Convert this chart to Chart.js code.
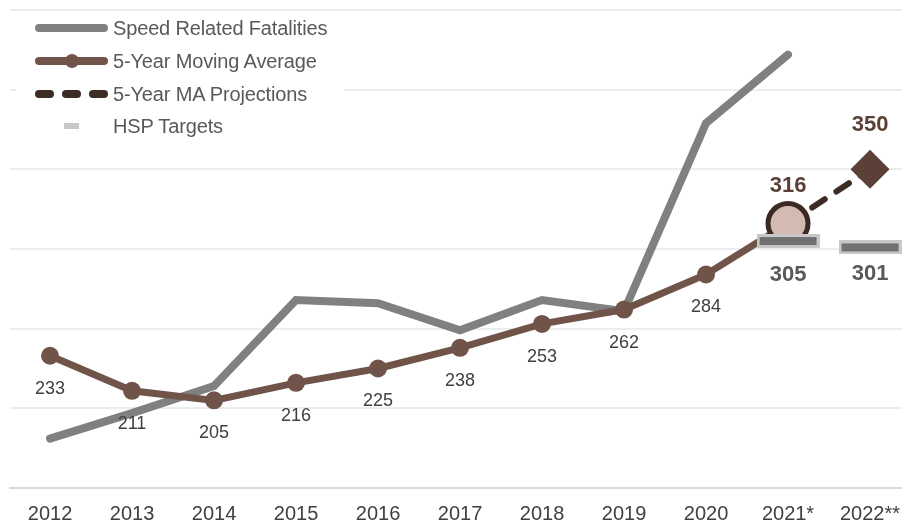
<!DOCTYPE html>
<html>
<head>
<meta charset="utf-8">
<script src="https://cdn.jsdelivr.net/npm/chart.js@4.4.0/dist/chart.umd.min.js"></script>
<style>
  html, body { margin: 0; padding: 0; background: #fff; }
  #wrap { position: relative; width: 902px; height: 523px; }
  canvas { display: block; }
  #legend {
    position: absolute; left: 16px; top: 12px; width: 328px; height: 128px;
    background: #fff; font-family: "Liberation Sans", Arial, sans-serif;
    font-size: 20px; color: #595959;
  }
  .row { position: absolute; left: 0; height: 30px; line-height: 30px; }
  .row span.txt { position: absolute; left: 97px; white-space: nowrap; letter-spacing: -0.15px; }
  .sample { position: absolute; left: 19px; }
</style>
</head>
<body>
<div id="wrap">
  <canvas id="speedChart" width="902" height="523"></canvas>
  <div id="legend">
    <div class="row" style="top:1px">
      <div class="sample" style="top:11px;width:73px;height:8px;border-radius:4px;background:#808080"></div>
      <span class="txt">Speed Related Fatalities</span>
    </div>
    <div class="row" style="top:34px">
      <div class="sample" style="top:11px;width:73px;height:8px;border-radius:4px;background:#70544a"></div>
      <div class="sample" style="top:8px;left:49px;width:14px;height:14px;border-radius:7px;background:#70544a"></div>
      <span class="txt">5-Year Moving Average</span>
    </div>
    <div class="row" style="top:67px">
      <div class="sample" style="top:11px;width:19px;height:8px;border-radius:4px;background:#3d2b25"></div>
      <div class="sample" style="top:11px;left:46px;width:19px;height:8px;border-radius:4px;background:#3d2b25"></div>
      <div class="sample" style="top:11px;left:73px;width:19px;height:8px;border-radius:4px;background:#3d2b25"></div>
      <span class="txt">5-Year MA Projections</span>
    </div>
    <div class="row" style="top:99px">
      <div class="sample" style="top:12px;left:48px;width:15px;height:6px;background:#c8c8c8"></div>
      <span class="txt">HSP Targets</span>
    </div>
  </div>
</div>
<script>
// Data
const years = ['2012', '2013', '2014', '2015', '2016', '2017', '2018', '2019', '2020', '2021*', '2022**'];
const speedFatalities = [181, 197, 214, 268, 266, 249, 268, 261, 379, 422, null];
const movingAverage = [233, 211, 205, 216, 225, 238, 253, 262, 284, 316, null];
const maProjections = [null, null, null, null, null, null, null, null, null, 316, 350];
const hspTargets = [null, null, null, null, null, null, null, null, null, 305, 301];

const toPoints = arr => arr.map((v, i) => ({ x: i, y: v }));

// HSP target marker: wide dark bar with light border
function targetMarker() {
    const c = document.createElement('canvas');
    c.width = 63; c.height = 14;
    const g = c.getContext('2d');
    g.fillStyle = '#c8c8c8';
    g.fillRect(0, 0, 63, 14);
    g.fillStyle = '#707070';
    g.fillRect(3, 3, 57, 8);
    return c;
}
const marker = targetMarker();

// no extra padding around the plot for labels
function noPadding(scale) {
    scale.paddingLeft = 0;
    scale.paddingRight = 0;
    scale.paddingTop = 0;
    scale.paddingBottom = 0;
}

const labelPlugin = {
    id: 'valueLabels',
    afterDatasetsDraw(chart) {
        const ctx = chart.ctx;
        ctx.save();
        ctx.textAlign = 'center';
        ctx.textBaseline = 'middle';
        // moving average labels (below points)
        const ma = chart.getDatasetMeta(1);
        ctx.font = '18px "Liberation Sans", Arial, sans-serif';
        ctx.fillStyle = '#404040';
        ma.data.forEach((pt, i) => {
            if (i < 9 && movingAverage[i] != null) ctx.fillText(movingAverage[i], pt.x, pt.y + 33);
        });
        // projections (above)
        const pr = chart.getDatasetMeta(2);
        ctx.font = 'bold 22px "Liberation Sans", Arial, sans-serif';
        ctx.fillStyle = '#5a4036';
        pr.data.forEach((pt, i) => {
            if (maProjections[i] != null) ctx.fillText(maProjections[i], pt.x, pt.y - (i === 10 ? 44 : 38));
        });
        // HSP targets (below)
        const hs = chart.getDatasetMeta(3);
        ctx.fillStyle = '#595959';
        hs.data.forEach((pt, i) => {
            if (hspTargets[i] != null) ctx.fillText(hspTargets[i], pt.x, pt.y + (i === 10 ? 27 : 34));
        });
        ctx.restore();
    }
};

document.addEventListener('DOMContentLoaded', function() {
    const ctx = document.getElementById('speedChart');
    new Chart(ctx, {
        type: 'line',
        data: {
            datasets: [
                {
                    label: 'Speed Related Fatalities',
                    data: toPoints(speedFatalities),
                    borderColor: '#808080',
                    borderWidth: 8,
                    borderCapStyle: 'round',
                    pointRadius: 0,
                    order: 4
                },
                {
                    label: '5-Year Moving Average',
                    data: toPoints(movingAverage),
                    borderColor: '#70544a',
                    backgroundColor: '#70544a',
                    borderWidth: 7,
                    pointRadius: movingAverage.map((v, i) => i < 9 ? 9 : 0),
                    pointBorderWidth: 0,
                    order: 3
                },
                {
                    label: '5-Year MA Projections',
                    data: toPoints(maProjections),
                    borderColor: '#3d2b25',
                    borderWidth: 6,
                    borderDash: [15, 14],
                    borderCapStyle: 'round',
                    pointStyle: maProjections.map((v, i) => i === 10 ? 'rectRot' : 'circle'),
                    pointRadius: maProjections.map((v, i) => i === 9 ? 20 : 19.5),
                    pointBackgroundColor: maProjections.map((v, i) => i === 9 ? '#d3bbb2' : '#5a4036'),
                    pointBorderColor: maProjections.map((v, i) => i === 9 ? '#3b2a24' : '#5a4036'),
                    pointBorderWidth: maProjections.map((v, i) => i === 9 ? 5 : 0),
                    order: 2
                },
                {
                    label: 'HSP Targets',
                    data: toPoints(hspTargets),
                    showLine: false,
                    pointStyle: marker,
                    order: 1
                }
            ]
        },
        options: {
            responsive: false,
            animation: false,
            layout: { autoPadding: false, padding: { left: 10, top: 10, right: 0, bottom: 0 } },
            plugins: {
                legend: { display: false },
                tooltip: { enabled: false }
            },
            scales: {
                x: {
                    type: 'linear',
                    min: -0.488,
                    max: 10.39,
                    afterBuildTicks: scale => { scale.ticks = years.map((y, i) => ({ value: i })); },
                    afterFit: scale => { noPadding(scale); scale.height = 35; },
                    ticks: {
                        callback: (v) => years[v],
                        autoSkip: false,
                        maxRotation: 0,
                        padding: 14,
                        color: '#404040',
                        font: { family: '"Liberation Sans", Arial, sans-serif', size: 20 }
                    },
                    grid: { display: false, drawTicks: false },
                    border: { color: '#d9d9d9', width: 2 }
                },
                y: {
                    min: 150,
                    max: 450,
                    afterFit: noPadding,
                    ticks: { display: false, stepSize: 50 },
                    grid: { color: '#ededed', lineWidth: 2, drawTicks: false },
                    border: { display: false }
                }
            }
        },
        plugins: [labelPlugin]
    });
});
</script>
</body>
</html>
